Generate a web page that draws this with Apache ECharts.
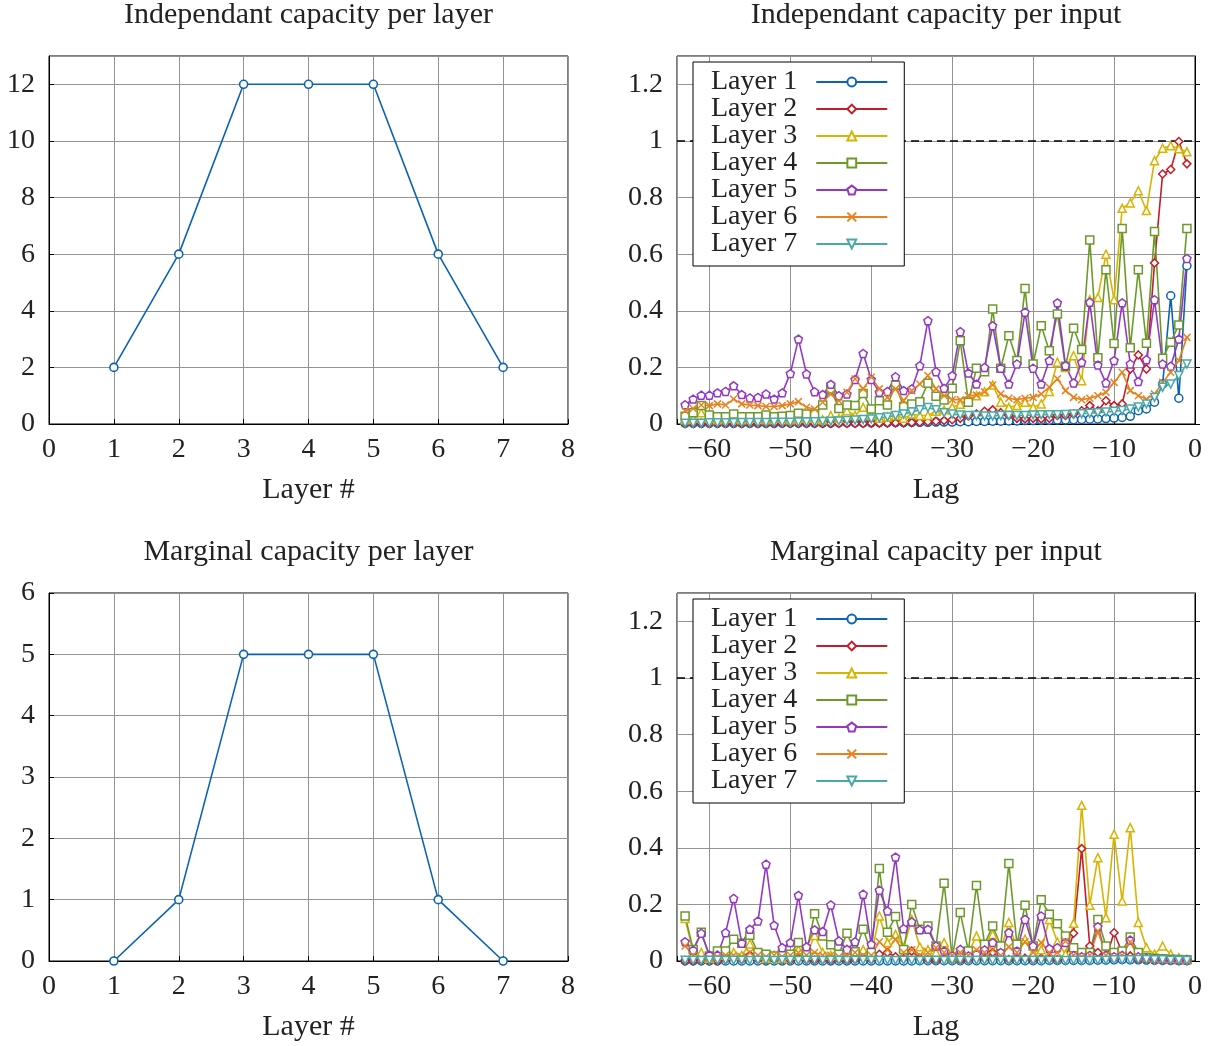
<!DOCTYPE html>
<html>
<head>
<meta charset="utf-8">
<script src="https://cdn.jsdelivr.net/npm/echarts@6/dist/echarts.min.js"></script>
<style>
html, body { margin: 0; padding: 0; background: #fff; }
#main { width: 1212px; height: 1046px; }
</style>
</head>
<body>
<div id="main"></div>
<script>
// per-layer capacities
var layers = [1, 2, 3, 4, 5, 6, 7];
var indepPerLayer = [2, 6, 12, 12, 12, 6, 2];
var margPerLayer = [0, 1, 5, 5, 5, 1, 0];

// lags of the per-input plots
var lags = [-63,-62,-61,-60,-59,-58,-57,-56,-55,-54,-53,-52,-51,-50,-49,-48,-47,-46,-45,-44,-43,-42,-41,-40,
  -39,-38,-37,-36,-35,-34,-33,-32,-31,-30,-29,-28,-27,-26,-25,-24,-23,-22,-21,-20,-19,-18,-17,-16,-15,-14,
  -13,-12,-11,-10,-9,-8,-7,-6,-5,-4,-3,-2,-1];

// independant capacity per input
var indep1 = [0.002,0.002,0.002,0.002,0.002,0.002,0.002,0.002,0.002,0.002,
  0.002,0.002,0.003,0.003,0.003,0.003,0.003,0.003,0.003,0.004,
  0.004,0.004,0.004,0.004,0.005,0.005,0.005,0.005,0.006,0.006,
  0.006,0.007,0.007,0.007,0.008,0.008,0.009,0.009,0.01,0.01,
  0.011,0.011,0.012,0.012,0.013,0.013,0.014,0.014,0.015,0.016,
  0.017,0.018,0.019,0.021,0.023,0.027,0.047,0.053,0.077,0.141,
  0.453,0.091,0.559];
var indep2 = [0.002,0.002,0.002,0.002,0.002,0.002,0.002,0.002,0.002,0.002,
  0.002,0.002,0.002,0.002,0.002,0.002,0.002,0.002,0.002,0.002,
  0.002,0.002,0.002,0.003,0.003,0.003,0.004,0.004,0.005,0.006,
  0.008,0.01,0.012,0.015,0.02,0.028,0.035,0.045,0.05,0.04,
  0.03,0.02,0.018,0.02,0.018,0.02,0.03,0.03,0.035,0.047,
  0.065,0.047,0.082,0.065,0.071,0.194,0.244,0.194,0.569,0.883,
  0.899,0.998,0.919];
var indep3 = [0.015,0.02,0.04,0.02,0.015,0.02,0.02,0.015,0.02,0.02,0.015,0.02,0.02,0.015,0.02,0.02,
  0.02,0.015,0.03,0.02,0.047,0.03,0.059,0.03,0.02,0.025,0.03,0.02,0.035,0.03,
  0.03,0.045,0.05,0.059,0.07,0.088,0.1,0.114,0.138,0.077,0.059,0.065,0.077,0.059,0.071,0.115,
  0.218,0.2,0.241,0.153,0.439,0.447,0.6,0.439,0.762,0.781,0.824,0.754,0.93,0.974,0.983,0.972,0.962];
var indep4 = [0.027,0.04,0.065,0.032,0.026,0.026,0.035,0.026,0.026,0.026,0.032,0.026,0.027,0.03,0.038,0.035,
  0.035,0.067,0.124,0.055,0.067,0.065,0.108,0.053,0.082,0.067,0.138,0.062,0.071,0.079,0.144,
  0.098,0.085,0.126,0.294,0.077,0.197,0.185,0.406,0.197,0.312,0.224,0.479,0.212,0.347,0.259,
  0.389,0.204,0.338,0.263,0.65,0.234,0.545,0.284,0.691,0.269,0.545,0.285,0.68,0.232,0.289,0.35,0.691];
var indep5 = [0.068,0.088,0.102,0.102,0.11,0.115,0.135,0.104,0.092,0.094,0.106,0.088,0.11,0.178,0.3,0.177,
  0.114,0.104,0.14,0.1,0.106,0.157,0.249,0.157,0.112,0.115,0.167,0.118,0.124,0.206,0.365,
  0.185,0.126,0.171,0.326,0.18,0.141,0.2,0.347,0.197,0.141,0.212,0.395,0.197,0.141,0.224,
  0.428,0.206,0.145,0.218,0.43,0.208,0.145,0.224,0.428,0.212,0.15,0.227,0.439,0.212,0.204,0.3,0.585];
var indep6 = [0.047,0.055,0.067,0.065,0.071,0.067,0.088,0.071,0.067,0.065,0.062,0.062,0.065,0.071,0.079,0.059,
  0.053,0.077,0.106,0.082,0.112,0.159,0.124,0.165,0.124,0.094,0.124,0.082,0.118,0.141,0.171,
  0.124,0.1,0.086,0.086,0.1,0.102,0.114,0.138,0.106,0.091,0.086,0.091,0.094,0.106,0.13,
  0.16,0.118,0.094,0.086,0.091,0.1,0.112,0.147,0.183,0.118,0.1,0.088,0.106,0.147,0.183,0.224,0.306];
var indep7 = [0.003,0.003,0.003,0.004,0.004,0.004,0.004,0.005,0.005,0.005,0.005,0.006,0.006,0.006,0.007,0.007,
  0.008,0.009,0.01,0.011,0.012,0.014,0.016,0.018,0.022,0.025,0.03,0.035,0.042,0.05,0.058,
  0.05,0.04,0.035,0.032,0.03,0.03,0.028,0.028,0.03,0.03,0.03,0.03,0.032,0.033,0.033,
  0.033,0.034,0.035,0.036,0.038,0.04,0.042,0.045,0.048,0.053,0.06,0.071,0.094,0.13,0.141,0.171,0.212];

// marginal capacity per input
var marg1 = [0,0,0,0,0,0,0,0,0,0,
  0,0,0,0,0,0,0,0,0,0,
  0,0,0,0,0,0,0,0,0,0.001,
  0.001,0.001,0.001,0.001,0.001,0.001,0.001,0.001,0.001,0.001,
  0.001,0.001,0.001,0.001,0.001,0.002,0.002,0.002,0.002,0.002,
  0.002,0.003,0.003,0.004,0.005,0.004,0.004,0.003,0.003,0.002,
  0.002,0.001,0.001];
var marg2 = [0,0,0.002,0,0,0.005,0.01,0.005,0.02,0.005,0.002,0.005,0.002,0.003,0.01,0.005,
  0.003,0.005,0.002,0.005,0.003,0.005,0.01,0.005,0.024,0.03,0.015,0.008,0.035,0.01,0.005,
  0.003,0.01,0.005,0.003,0.005,0.01,0.008,0.03,0.01,0.005,0.008,0.01,0.005,0.01,0.008,
  0.005,0.01,0.098,0.397,0.053,0.03,0.01,0.1,0.03,0.018,0.005,0.005,0.003,0.005,0.003,0.002,0.002];
var marg3 = [0.15,0.03,0.03,0.01,0.02,0.02,0.03,0.02,0.06,0.02,0.01,0.02,0.01,0.02,0.04,0.02,
  0.09,0.03,0.02,0.02,0.04,0.03,0.04,0.02,0.159,0.065,0.094,0.047,0.147,0.05,0.04,
  0.03,0.065,0.02,0.04,0.03,0.088,0.04,0.094,0.04,0.136,0.04,0.077,0.03,0.04,0.147,
  0.067,0.024,0.133,0.55,0.197,0.365,0.153,0.448,0.212,0.471,0.136,0.047,0.024,0.053,0.024,0.012,0.006];
var marg4 = [0.159,0.041,0.102,0.018,0.035,0.035,0.077,0.063,0.091,0.03,0.024,0.018,0.024,0.024,0.065,0.03,
  0.167,0.088,0.057,0.024,0.098,0.033,0.112,0.03,0.327,0.102,0.157,0.041,0.2,0.112,0.124,
  0.053,0.275,0.012,0.171,0.035,0.267,0.059,0.124,0.053,0.344,0.059,0.197,0.053,0.216,0.165,
  0.132,0.088,0.047,0.03,0.03,0.147,0.053,0.03,0.035,0.085,0.03,0.012,0.01,0.008,0.006,0.005,0.004];
var marg5 = [0.068,0.038,0.098,0.021,0.021,0.1,0.221,0.063,0.112,0.141,0.342,0.126,0.047,0.065,0.232,0.05,
  0.11,0.104,0.198,0.071,0.041,0.068,0.236,0.059,0.25,0.177,0.367,0.114,0.138,0.11,0.112,
  0.053,0.035,0.018,0.041,0.018,0.024,0.039,0.065,0.03,0.1,0.035,0.147,0.053,0.159,0.044,
  0.047,0.065,0.02,0.015,0.02,0.121,0.02,0.015,0.02,0.074,0.015,0.01,0.008,0.006,0.005,0.004,0.004];
var marg6 = [0.053,0.02,0.01,0.01,0.015,0.02,0.02,0.015,0.03,0.02,0.015,0.02,0.015,0.02,0.03,0.02,
  0.03,0.02,0.02,0.015,0.02,0.03,0.02,0.02,0.068,0.04,0.077,0.03,0.04,0.02,0.03,
  0.047,0.03,0.02,0.03,0.02,0.04,0.03,0.04,0.02,0.05,0.03,0.068,0.03,0.065,0.03,
  0.03,0.07,0.02,0.015,0.02,0.106,0.02,0.015,0.02,0.067,0.015,0.01,0.008,0.006,0.005,0.004,0.003];
var marg7 = [0.003,0.003,0.002,0.003,0.003,0.002,0.003,0.003,0.002,0.003,
  0.003,0.002,0.003,0.003,0.002,0.003,0.003,0.002,0.003,0.003,
  0.002,0.003,0.003,0.002,0.003,0.003,0.002,0.003,0.003,0.002,
  0.003,0.003,0.002,0.003,0.003,0.002,0.003,0.003,0.002,0.003,
  0.003,0.002,0.003,0.003,0.002,0.003,0.003,0.002,0.003,0.003,
  0.002,0.003,0.003,0.004,0.004,0.004,0.005,0.005,0.004,0.004,
  0.003,0.003,0.002];

var layerNames = ['Layer 1', 'Layer 2', 'Layer 3', 'Layer 4', 'Layer 5', 'Layer 6', 'Layer 7'];
var colors = ['#0b63b3', '#c21d28', '#d8b300', '#6b9a2a', '#9437c2', '#e8821e', '#4aa9a6'];
var symbols = ['circle', 'diamond', 'triangle', 'rect',
  'path://M5,0L10,3.6L8.1,9.5L1.9,9.5L0,3.6Z',
  'path://M0,0L10,10M0,10L10,0',
  'path://M0,0L10,0L5,9Z'];

var myChart = echarts.init(document.getElementById('main'));
var font = 'Liberation Serif';
var fs = 28;     // tick labels, legend
var fsBig = 30;  // titles, axis names

function pairs(xs, ys) {
  return xs.map(function (x, i) { return [x, ys[i]]; });
}

function minus(v) {
  return String(v).replace('-', '\u2212');
}

function xLayerAxis(gi) {
  return {
    gridIndex: gi, type: 'value', min: 0, max: 8, interval: 1,
    name: 'Layer #', nameLocation: 'middle', nameGap: 51,
    nameTextStyle: { fontFamily: font, fontSize: fsBig, color: '#222' },
    axisLine: { lineStyle: { color: '#000', width: 1 } },
    axisTick: { inside: true, length: 5, lineStyle: { color: '#000' } },
    axisLabel: { fontFamily: font, fontSize: fs, color: '#222', margin: 12 },
    splitLine: { show: true, lineStyle: { color: '#939393', width: 1 } }
  };
}

function xLagAxis(gi) {
  return {
    gridIndex: gi, type: 'value', min: -64, max: 0, splitNumber: 6,
    name: 'Lag', nameLocation: 'middle', nameGap: 51,
    nameTextStyle: { fontFamily: font, fontSize: fsBig, color: '#222' },
    axisLine: { lineStyle: { color: '#000', width: 1 } },
    axisTick: { inside: true, length: 5, lineStyle: { color: '#000' } },
    axisLabel: {
      fontFamily: font, fontSize: fs, color: '#222', margin: 12,
      formatter: function (v) { return v % 10 === 0 ? minus(v) : ''; }
    },
    splitLine: { show: true, lineStyle: { color: '#939393', width: 1 } }
  };
}

function yAxis(gi, max, interval, showMax) {
  return {
    gridIndex: gi, type: 'value', min: 0, max: max, interval: interval,
    axisLine: { show: true, lineStyle: { color: '#000', width: 1 } },
    axisTick: { show: true, inside: true, length: 5, lineStyle: { color: '#000' } },
    axisLabel: { fontFamily: font, fontSize: fs, color: '#222', margin: 14, showMaxLabel: showMax },
    splitLine: { show: true, lineStyle: { color: '#939393', width: 1 } }
  };
}

function legendAt(top) {
  return {
    data: layerNames, orient: 'vertical', left: 693, top: top, align: 'right',
    z: 100,
    itemWidth: 71, itemHeight: 11, itemGap: -1,
    padding: [6, 16, 8, 18],
    backgroundColor: '#fff', borderColor: '#000', borderWidth: 1, borderRadius: 0,
    textStyle: { fontFamily: font, fontSize: fs, color: '#222', padding: [0, 14, 0, 0] }
  };
}

var tStyle = { fontFamily: font, fontSize: fsBig, fontWeight: 'normal', color: '#222' };

var series = [
  {
    type: 'line', xAxisIndex: 0, yAxisIndex: 0,
    data: pairs(layers, indepPerLayer),
    symbol: 'circle', symbolSize: 8,
    lineStyle: { color: colors[0], width: 1.6 },
    itemStyle: { color: '#fff', borderColor: colors[0], borderWidth: 1.6 }
  },
  {
    type: 'line', xAxisIndex: 2, yAxisIndex: 2,
    data: pairs(layers, margPerLayer),
    symbol: 'circle', symbolSize: 8,
    lineStyle: { color: colors[0], width: 1.6 },
    itemStyle: { color: '#fff', borderColor: colors[0], borderWidth: 1.6 }
  }
];

var indep = [indep1, indep2, indep3, indep4, indep5, indep6, indep7];
var marg = [marg1, marg2, marg3, marg4, marg5, marg6, marg7];

[[indep, 1], [marg, 3]].forEach(function (set) {
  set[0].forEach(function (vals, i) {
    var s = {
      name: layerNames[i], type: 'line',
      xAxisIndex: set[1], yAxisIndex: set[1],
      data: pairs(lags, vals),
      symbol: symbols[i], symbolSize: i === 5 ? 7 : 8,
      lineStyle: { color: colors[i], width: 1.6 },
      itemStyle: { color: '#fff', borderColor: colors[i], borderWidth: 1.5 }
    };
    if (i === 0) {
      s.markLine = {
        silent: true, symbol: 'none', label: { show: false }, z: 1,
        lineStyle: { color: '#000', type: [8, 5], width: 1.5 },
        data: [{ yAxis: 1 }]
      };
    }
    series.push(s);
  });
});

var option = {
  animation: false,
  backgroundColor: '#fff',
  title: [
    { text: 'Independant capacity per layer', left: 308.5, top: 0, textAlign: 'center', padding: 0, textStyle: tStyle },
    { text: 'Independant capacity per input', left: 936, top: 0, textAlign: 'center', padding: 0, textStyle: tStyle },
    { text: 'Marginal capacity per layer', left: 308.5, top: 537, textAlign: 'center', padding: 0, textStyle: tStyle },
    { text: 'Marginal capacity per input', left: 936, top: 537, textAlign: 'center', padding: 0, textStyle: tStyle }
  ],
  legend: [legendAt(62), legendAt(599)],
  grid: [
    { left: 49, top: 56, width: 519, height: 368, show: true, borderColor: '#000', borderWidth: 1 },
    { left: 677, top: 56, width: 518, height: 368, show: true, borderColor: '#000', borderWidth: 1 },
    { left: 49, top: 593, width: 519, height: 368, show: true, borderColor: '#000', borderWidth: 1 },
    { left: 677, top: 593, width: 518, height: 368, show: true, borderColor: '#000', borderWidth: 1 }
  ],
  xAxis: [xLayerAxis(0), xLagAxis(1), xLayerAxis(2), xLagAxis(3)],
  yAxis: [yAxis(0, 13, 2, false), yAxis(1, 1.3, 0.2, false), yAxis(2, 6, 1, true), yAxis(3, 1.3, 0.2, false)],
  series: series
};

option && myChart.setOption(option);
window.onresize = myChart.resize;
</script>
</body>
</html>
